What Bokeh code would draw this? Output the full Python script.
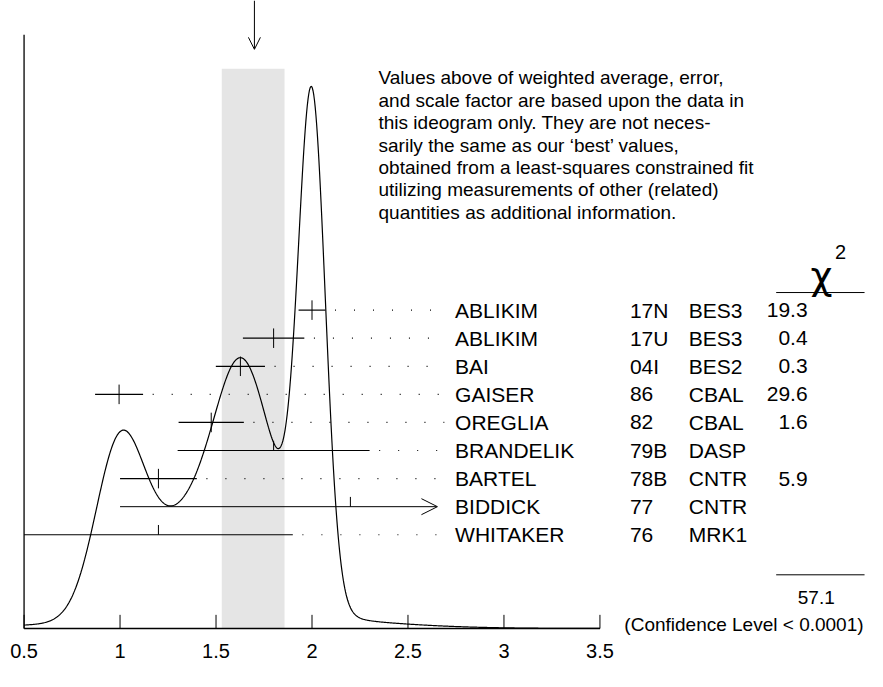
import numpy as np
from bokeh.plotting import figure
from bokeh.models import Range1d, Arrow, OpenHead
from bokeh.core.properties import value
from bokeh.embed import file_html
from bokeh.resources import INLINE

names = ["ABLIKIM", "ABLIKIM", "BAI", "GAISER", "OREGLIA", "BRANDELIK", "BARTEL", "BIDDICK", "WHITAKER"]
years = ["17N", "17U", "04I", "86", "82", "79B", "78B", "77", "76"]
exps = ["BES3", "BES3", "BES2", "CBAL", "CBAL", "DASP", "CNTR", "CNTR", "MRK1"]
chi2 = ["19.3", "0.4", "0.3", "29.6", "1.6", "", "5.9", "", ""]
centers = [2.00, 1.80, 1.627, 0.995, 1.475, 1.80, 1.20, 2.20, 1.20]
errors = [0.07, 0.16, 0.128, 0.125, 0.17, 0.50, 0.20, None, 0.70]
used = [True, True, True, True, True, True, True, False, True]
band = (1.53, 1.857)
avg = 1.70
xticks = [0.5, 1, 1.5, 2, 2.5, 3, 3.5]
note = ["Values above of weighted average, error,",
        "and scale factor are based upon the data in",
        "this ideogram only.  They are not neces-",
        "sarily the same as our \u2018best\u2019 values,",
        "obtained from a least-squares constrained fit",
        "utilizing measurements of other (related)",
        "quantities as additional information."]
total_chi2 = "57.1"
cl_text = "(Confidence Level < 0.0001)"

FONT = value("Liberation Sans")
def px(p):  # reference pixel -> data x
    return 0.5 + (p - 24) / 195.5

p = figure(width=867, height=671, output_backend="svg", toolbar_location=None,
           x_range=Range1d(px(0), px(883)), y_range=Range1d(687, 0), min_border=0)
p.axis.visible = False
p.grid.visible = False
p.outline_line_color = None

base = 643
p.quad(left=[band[0]], right=[band[1]], top=[70], bottom=[base], color="#e5e5e5", line_color=None)

xs = np.linspace(0.5, 3.5, 800)
f = np.zeros_like(xs)
for c, e, u in zip(centers, errors, used):
    if u and e:
        f += (1 / e**2) * np.exp(-0.5 * ((xs - c) / e) ** 2)
ys = base - 555 * f / f.max()
p.line(xs, ys, color="black", line_width=1.2)

p.line([0.5, 3.5], [base, base], color="black", line_width=1.3)
p.line([0.5, 0.5], [35, base], color="black", line_width=1.3)
p.segment(x0=xticks, x1=xticks, y0=[base]*7, y1=[base - 14]*7, color="black")
p.text(x=xticks, y=[666]*7, text=[str(t) for t in xticks], text_align="center",
       text_baseline="middle", text_font=FONT, text_font_size="20px")

p.add_layout(Arrow(end=OpenHead(size=12, line_color="black"), x_start=avg, y_start=0, x_end=avg, y_end=50,
                   line_color="black"))

row0, dy = 317, 28.75
dot_end = px(452)
for i in range(len(names)):
    y = row0 + dy * i
    c, e = centers[i], errors[i]
    if e is None:
        p.add_layout(Arrow(end=OpenHead(size=16, line_color="black"), x_start=1.0, y_start=y,
                           x_end=px(445), y_end=y, line_color="black"))
        p.segment(x0=[c], x1=[c], y0=[y], y1=[y - 10], color="black")
    else:
        lo, hi = max(c - e, 0.5), c + e
        p.segment(x0=[lo], x1=[hi], y0=[y], y1=[y], color="black", line_width=1.2)
        if i in (5, 8):
            p.segment(x0=[c], x1=[c], y0=[y], y1=[y - 10], color="black")
        else:
            p.segment(x0=[c], x1=[c], y0=[y - 10], y1=[y + 10], color="black")
        if hi < dot_end:
            p.line([hi + 0.05, dot_end], [y, y], color="black", line_dash="1 18", line_width=1.2)

ry = [row0 + dy * i for i in range(len(names))]
kw = dict(text_baseline="middle", text_font=FONT, text_font_size="21px")
p.text(x=[px(463)]*9, y=ry, text=names, **kw)
p.text(x=[px(641)]*9, y=ry, text=years, **kw)
p.text(x=[px(701)]*9, y=ry, text=exps, **kw)
p.text(x=[px(822)]*9, y=ry, text=chi2, text_align="right", **kw)

kw2 = dict(text_baseline="middle", text_font=FONT, text_font_size="19px")
p.text(x=[px(385)]*7, y=[79 + 23 * k for k in range(7)], text=note, **kw2)
p.text(x=[px(836)], y=[282], text=["\u03c7"], text_align="center", text_baseline="middle",
       text_font=value("DejaVu Sans"), text_font_size="38px")
p.text(x=[px(850)], y=[258], text=["2"], text_baseline="middle", text_font=FONT, text_font_size="20px")
p.segment(x0=[px(790)]*2, x1=[px(880)]*2, y0=[299, 588], y1=[299, 588], color="black")
p.text(x=[px(812)], y=[611], text=[total_chi2], **kw2)
p.text(x=[px(879)], y=[639], text=[cl_text], text_align="right", **kw2)

open("out.html", "w").write(file_html(p, INLINE))
